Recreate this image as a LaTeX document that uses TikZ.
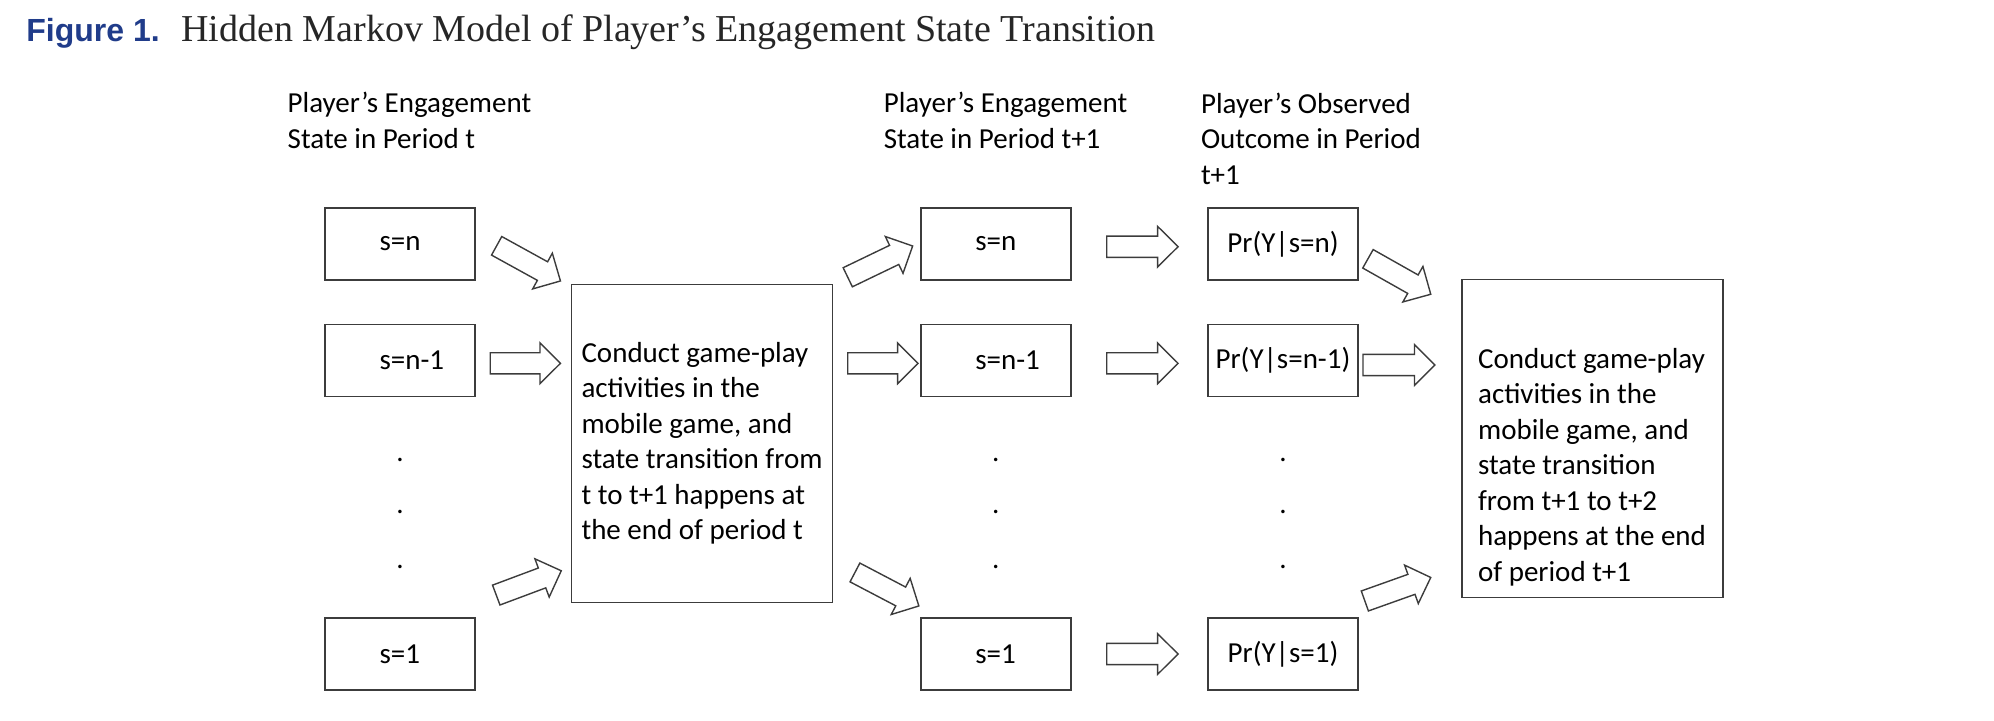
\documentclass[tikz,border=0pt]{standalone}
\usepackage{fontspec}
\setmainfont{Carlito}
\newfontfamily\figfont{Liberation Sans}
\newfontfamily\titlefont{Liberation Serif}
\usetikzlibrary{calc, positioning}

\definecolor{figblue}{RGB}{32,60,138}
\definecolor{linegray}{RGB}{60,60,60}

\newcommand{\slab}[1]{\makebox[20.5pt][l]{#1}}

\begin{document}
\begin{tikzpicture}[
    x=0.5pt, y=-0.5pt,
    font=\fontsize{14.5}{17.75}\selectfont,
    statebox/.style={rectangle, draw=linegray, line width=0.75pt, minimum width=75pt, minimum height=36pt, inner sep=0pt},
    stagebox/.style={rectangle, draw=linegray, line width=0.75pt, minimum width=130.5pt, minimum height=159.2pt, inner sep=0pt, align=left},
    headtext/.style={anchor=base west, align=left, inner sep=0pt},
    dotmark/.style={anchor=base, inner sep=0pt},
    hollow/.style={draw=linegray, line width=0.7pt, fill=white, line join=miter,
        to path={
            ($(\tikztostart)!5.3pt!90:(\tikztotarget)$)
            -- ($($(\tikztotarget)!10.25pt!(\tikztostart)$)!5.3pt!90:(\tikztotarget)$)
            -- ($($(\tikztotarget)!10.25pt!(\tikztostart)$)!10.2pt!90:(\tikztotarget)$)
            -- (\tikztotarget)
            -- ($($(\tikztotarget)!10.25pt!(\tikztostart)$)!10.2pt!-90:(\tikztotarget)$)
            -- ($($(\tikztotarget)!10.25pt!(\tikztostart)$)!5.3pt!-90:(\tikztotarget)$)
            -- ($(\tikztostart)!5.3pt!-90:(\tikztotarget)$)
            -- cycle}}
]
\useasboundingbox (0,0) rectangle (1994,720);

\node (figlab) [anchor=base west, inner sep=0pt, text=figblue, font=\figfont\bfseries\fontsize{16}{19}\selectfont] at (26,41) {Figure 1.};
\node (figtitle) [base right=10.4pt of figlab, inner sep=0pt, text=black!85, font=\titlefont\fontsize{19}{23}\selectfont] {Hidden Markov Model of Player’s Engagement State Transition};

% multi-line nodes sit on their last baseline
\node (hdrnow) [headtext] at (287.3,148.3) {Player’s Engagement\\State in Period t};
\node (hdrnext) [headtext] at (883.4,148.3) {Player’s Engagement\\State in Period t+1};
\node (hdrobs) [headtext] at (1200.6,184) {Player’s Observed\\Outcome in Period\\t+1};

\node (sn) [statebox] at (400,244) {\slab{s=n}};
\node (sn1) [statebox] at (400,360.5) {\slab{s=n-1}};
\node (s1) [statebox] at (400,654) {\slab{s=1}};

\node (play1) [stagebox] at (702,443.5) {Conduct game-play\\activities in the\\mobile game, and\\state transition from\\t to t+1 happens at\\the end of period t};

\node (tsn) [statebox] at (995.8,244) {\slab{s=n}};
\node (tsn1) [statebox] at (995.8,360.5) {\slab{s=n-1}};
\node (ts1) [statebox] at (995.8,654) {\slab{s=1}};

\node (prn) [statebox] at (1283,244) {Pr(Y|s=n)};
\node (prn1) [statebox] at (1283,360.5) {Pr(Y|s=n-1)};
\node (pr1) [statebox] at (1283,654) {Pr(Y|s=1)};

\node (play2) [stagebox] at (1592.5,438.5) {};
\node (play2text) [headtext] at (1477.7,581) {Conduct game-play\\activities in the\\mobile game, and\\state transition\\from t+1 to t+2\\happens at the end\\of period t+1};

\foreach \cx/\col in {400/l, 995.8/m, 1283/r}
    \foreach \cy/\row in {461.5/1, 513.2/2, 568.8/3}
        \node (dot\col\row) [dotmark] at (\cx,\cy) {.};

\draw [hollow] ($(sn.east)+(20.9,1.8)$) to ($(play1.north west)+(-10.3,-2.6)$);
\draw [hollow] ($(sn1.east)+(14.5,2.8)$) to ($(play1.west |- sn1.east)+(-10.3,2.8)$);
\draw [hollow] ($(s1.north east)+(20.5,-22.2)$) to ($(play1.south west)+(-9.5,-32.7)$);

\draw [hollow] ($(play1.north east)+(14.5,-6.3)$) to ($(tsn.west)+(-7.4,2)$);
\draw [hollow] ($(play1.east |- tsn1.west)+(14.5,2.8)$) to ($(tsn1.west)+(-2,2.8)$);
\draw [hollow] ($(play1.south east)+(21.7,-31)$) to ($(ts1.north west)+(-1.2,-11.3)$);

\foreach \a/\b/\dy in {tsn/prn/2.7, tsn1/prn1/2.8, ts1/pr1/0}
    \draw [hollow] ($(\a.east)+(35.2,\dy)$) to ($(\b.west)+(-29.2,\dy)$);

\draw [hollow] ($(prn.east)+(9.2,14.8)$) to ($(play2.north west)+(-30.5,15.7)$);
\draw [hollow] ($(prn1.east)+(4.2,4.5)$) to ($(play2.west |- prn1.east)+(-26.3,4.5)$);
\draw [hollow] ($(pr1.north east)+(6.1,-16.3)$) to ($(play2.south west)+(-30.5,-21)$);

\end{tikzpicture}
\end{document}
